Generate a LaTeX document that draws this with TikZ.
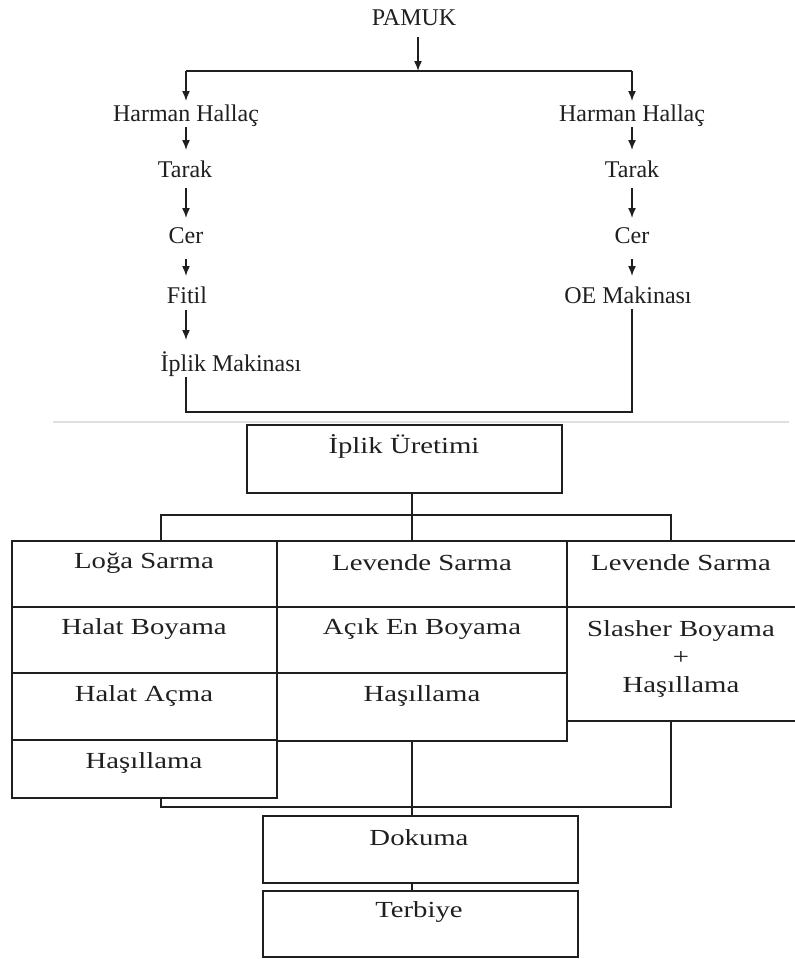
\documentclass[tikz,border=0pt]{standalone}
\usepackage{fontspec}
\usetikzlibrary{arrows.meta}
\newfontfamily\topfont{Liberation Serif}
\newfontfamily\boxfont[FakeStretch=1.25]{Liberation Serif}
\definecolor{ink}{gray}{0.12}
\tikzset{
  toptext/.style={font=\topfont\fontsize{24}{28}\selectfont, text=ink, inner xsep=0pt, inner ysep=1pt, text height=15pt, text depth=5pt, outer sep=0pt},
  celltext/.style={font=\boxfont\fontsize{23}{28}\selectfont, text=ink, inner sep=0pt, align=center},
  cell/.style={draw=ink, line width=1.8pt, outer sep=0pt, inner sep=0pt, anchor=north west},
  thinline/.style={draw=ink, line width=1.5pt},
  arr/.style={thinline, -{Latex[length=10pt,width=8pt]}},
  conn/.style={draw=ink, line width=2.9pt},
}
\begin{document}
\begin{tikzpicture}[x=1pt,y=-1pt]
\useasboundingbox (0,0) rectangle (795,959);
% ---------- top section ----------
\coordinate (colL) at (186,0);
\coordinate (colR) at (632,0);
\coordinate (split) at (418,71);
\coordinate (merge) at (418,412);
\node[toptext] (pamuk) at (414,20) {PAMUK};
\node[toptext] (hh1) at (186,116) {Harman Hallaç};
\node[toptext] (hh2) at (632,116) {Harman Hallaç};
\node[toptext] (tr1) at (185,172) {Tarak};
\node[toptext] (tr2) at (632,172) {Tarak};
\node[toptext] (ce1) at (186,238) {Cer};
\node[toptext] (ce2) at (632,238) {Cer};
\node[toptext] (fi) at (187,298) {Fitil};
\node[toptext] (oe) at (628,298) {OE Makinası};
\node[toptext] (im) at (231,366) {İplik Makinası};

\draw[arr, shorten <=6pt] (pamuk.south -| split) -- (split);
\draw[thinline] (colL |- split) -- (colR |- split);
\draw[arr, shorten >=4pt] (colL |- split) -- (hh1.north -| colL);
\draw[arr, shorten >=4pt] (colR |- split) -- (hh2.north -| colR);

\draw[arr, shorten >=11pt] (hh1.south -| colL) -- (tr1.north -| colL);
\draw[arr, shorten <=5pt, shorten >=9pt] (tr1.south -| colL) -- (ce1.north -| colL);
\draw[arr, shorten <=10pt, shorten >=11pt] (ce1.south -| colL) -- (fi.north -| colL);
\draw[arr, shorten <=1pt, shorten >=15pt] (fi.south -| colL) -- (im.north -| colL);

\draw[arr, shorten >=11pt] (hh2.south -| colR) -- (tr2.north -| colR);
\draw[arr, shorten <=5pt, shorten >=9pt] (tr2.south -| colR) -- (ce2.north -| colR);
\draw[arr, shorten <=10pt, shorten >=11pt] (ce2.south -| colR) -- (oe.north -| colR);

\draw[thinline] (im.south -| colL) -- (colL |- merge) -- (colR |- merge) -- (oe.south -| colR);

% faint separator
\draw[gray!25, line width=2pt] (53,422) -- (789,422);

% ---------- lower section ----------
\coordinate (xa) at (161,0);
\coordinate (xb) at (671,0);
\coordinate (xc) at (412,0);
\coordinate (t1) at (412,515);
\coordinate (t2) at (412,807);

\node[cell, minimum width=315pt, minimum height=68pt] (up) at (247,425) {};
\node[celltext] (upt) at (404,446) {İplik Üretimi};

% left column
\node[cell, minimum width=265pt, minimum height=66pt] (lc1) at (12,541) {};
\node[cell, minimum width=265pt, minimum height=66pt] (lc2) at (12,607) {};
\node[cell, minimum width=265pt, minimum height=67pt] (lc3) at (12,673) {};
\node[cell, minimum width=265pt, minimum height=58pt] (lc4) at (12,740) {};
\node[celltext] (lt1) at (144,563) {Loğa Sarma};
\node[celltext] (lt2) at (144,629) {Halat Boyama};
\node[celltext] (lt3) at (144,696) {Halat Açma};
\node[celltext] (lt4) at (144,763) {Haşıllama};

% middle column
\node[cell, minimum width=290pt, minimum height=66pt] (mc1) at (277,541) {};
\node[cell, minimum width=290pt, minimum height=66pt] (mc2) at (277,607) {};
\node[cell, minimum width=290pt, minimum height=68pt] (mc3) at (277,673) {};
\node[celltext] (mt1) at (422,563) {Levende Sarma};
\node[celltext] (mt2) at (422,629) {Açık En Boyama};
\node[celltext] (mt3) at (422,696) {Haşıllama};

% right column (runs past the right edge)
\node[cell, minimum width=236pt, minimum height=66pt] (rc1) at (567,541) {};
\node[cell, minimum width=236pt, minimum height=114pt] (rc2) at (567,607) {};
\node[celltext] (rt1) at (681,563) {Levende Sarma};
\node[celltext] (rt2) at (681,631) {Slasher Boyama};
\node[celltext] (rt3) at (681,658) {+};
\node[celltext] (rt4) at (681,687) {Haşıllama};

% bottom boxes
\node[cell, minimum width=315pt, minimum height=67pt] (dk) at (263,816) {};
\node[cell, minimum width=315pt, minimum height=66pt] (tb) at (263,891) {};
\node[celltext] (dkt) at (419,838) {Dokuma};
\node[celltext] (tbt) at (419,912) {Terbiye};

% connectors
\draw[conn] (up.south -| xc) -- (mc1.north -| xc);
\draw[conn] (lc1.north -| xa) |- (t1) -| (rc1.north -| xb);
\draw[conn] (lc4.south -| xa) |- (t2) -| (rc2.south -| xb);
\draw[conn] (mc3.south -| xc) -- (dk.north -| xc);
\draw[thinline] (dk.south -| xc) -- (tb.north -| xc);
\end{tikzpicture}
\end{document}
